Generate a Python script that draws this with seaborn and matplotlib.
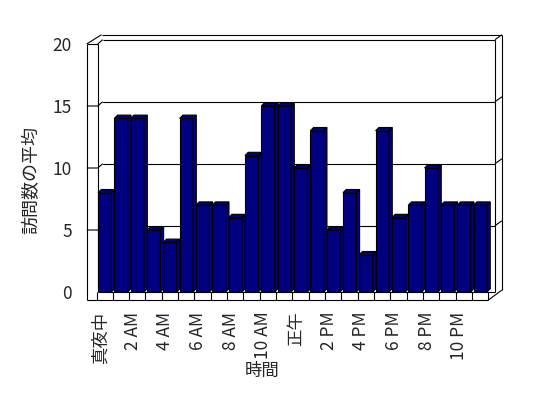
import numpy as np
import pandas as pd
import matplotlib
matplotlib.use("Agg")
import matplotlib.pyplot as plt
import matplotlib.transforms as mtransforms
from matplotlib.patches import Polygon
from matplotlib.collections import LineCollection
import seaborn as sns

# ---- data ----
hours = list(range(24))
visits = [8, 14, 14, 5, 4, 14, 7, 7, 6, 11, 15, 15, 10, 13, 5, 8, 3, 13, 6, 7, 10, 7, 7, 7]
tick_hours = [0, 2, 4, 6, 8, 10, 12, 14, 16, 18, 20, 22]
tick_labels = ['真夜中', '2 AM', '4 AM', '6 AM', '8 AM', '10 AM', '正午',
               '2 PM', '4 PM', '6 PM', '8 PM', '10 PM']
y_ticks = [0, 5, 10, 15, 20]
grid_vals = [5, 10, 15]
x_title = '時間'
y_title = '訪問数の平均'

sns.set_style('white')
plt.rcParams['font.family'] = ['Noto Sans CJK JP', 'DejaVu Sans']
FS = 12.5

W, H = 548, 398
fig = plt.figure(figsize=(W / 100, H / 100), dpi=100)

# ---- layout geometry (pixels, top origin) ----
SLOT = 16.33     # px per category
X0 = 96.5        # px of x = -0.5
XR = 495.0       # inner right wall
Y0 = 292.0       # px of value 0
Y20 = 44.0       # px of value 20
PXU = (Y0 - Y20) / 20.0
XL = 86.7        # left wall front edge
XB = 97.7        # left wall inner edge
DBX, DBY = 5.0, 4.3   # back wall offset
XT = 101.5       # outer top-left corner
XO = 502.0       # outer right edge
YT = 34.7        # outer top edge
YF = 300.0       # floor front edge
YFR = 290.0      # outer right bottom
DEPTH = 3.3      # bar depth in px
NAVY = '#000080'
LW = 0.8


def fx(px):
    return px / W


def fy(py):
    return 1 - py / H


ax = fig.add_axes([fx(X0), fy(Y0), (XR - X0) / W, (Y0 - Y20) / H])
df = pd.DataFrame({'hour': hours, 'visits': visits})
sns.barplot(data=df, x='hour', y='visits', color=NAVY, saturation=1,
            width=0.82, edgecolor='black', linewidth=LW, ax=ax, zorder=3)
ax.set_xlim(-0.5, -0.5 + (XR - X0) / SLOT)
ax.set_ylim(0, 20)
for s in ax.spines.values():
    s.set_visible(False)
ax.patch.set_visible(False)

# back wall gridlines (behind bars)
xmin_frac = (XB + DBX - X0) / (XR - X0)
for v in grid_vals:
    ax.axhline(v + DBY / PXU, xmin=xmin_frac, xmax=1, color='black', lw=LW, zorder=1)

# 3D side/top faces
dx = DEPTH / SLOT
dy = DEPTH / PXU
for p in list(ax.patches):
    x0 = p.get_x()
    w = p.get_width()
    h = p.get_height()
    top = Polygon([(x0, h), (x0 + w, h), (x0 + w + dx, h + dy), (x0 + dx, h + dy)],
                  closed=True, facecolor=NAVY, edgecolor='black', lw=LW, zorder=3)
    side = Polygon([(x0 + w, 0), (x0 + w, h), (x0 + w + dx, h + dy), (x0 + w + dx, dy)],
                   closed=True, facecolor=NAVY, edgecolor='black', lw=LW, zorder=3)
    ax.add_patch(top)
    ax.add_patch(side)

# ticks
ax.set_xticks(tick_hours, tick_labels, rotation=90, fontsize=FS)
ax.set_yticks(y_ticks, [str(v) for v in y_ticks], fontsize=FS)
ax.tick_params(axis='x', length=0, pad=(311.5 - Y0) * 0.72)
ax.tick_params(axis='y', length=0, pad=(X0 - 72) * 0.72)
ax.set_xlabel('')
ax.set_ylabel('')
shift = mtransforms.ScaledTranslation(-4.5 / 100, 0, fig.dpi_scale_trans)
for lab in ax.get_xticklabels():
    lab.set_transform(lab.get_transform() + shift)

# ---- frame decoration overlay ----
deco = fig.add_axes([0, 0, 1, 1], zorder=5)
deco.set_xlim(0, W)
deco.set_ylim(H, 0)
deco.axis('off')
deco.patch.set_alpha(0)

segs = [
    [(XL, Y20), (XL, YF)],
    [(XL, Y20), (XB, Y20)],
    [(XB, Y20), (XB, Y0)],
    [(XB, Y20), (XB + DBX, Y20 - DBY)],
    [(XL, Y20), (XT, YT)],
    [(XT, YT), (XO, YT)],
    [(XB + DBX, Y20 - DBY), (XR, Y20 - DBY)],
    [(XR, Y20 - DBY), (XO, YT)],
    [(XR, Y20 - DBY), (XR, Y0)],
    [(XO, YT), (XO, YFR)],
    [(XB, Y0), (XR, Y0)],
    [(XL, YF), (X0 + 24 * SLOT, YF)],
    [(X0 + 24 * SLOT, YF), (XO, YFR)],
]
for v in grid_vals:
    yv = Y0 - v * PXU
    segs.append([(XL, yv), (XB, yv), (XB + DBX, yv - DBY)])
    segs.append([(XR, yv - DBY), (XO, yv - DBY - (Y20 - DBY - YT))])
for k in range(25):
    xk = X0 + k * SLOT
    segs.append([(xk, Y0), (xk, YF)])
deco.add_collection(LineCollection(segs, colors='black', linewidths=LW))

fig.text(fx(31.7), fy(180), y_title, rotation=90, ha='center', va='center', fontsize=13)
fig.text(fx(262), fy(371), x_title, ha='center', va='center', fontsize=FS)

fig.savefig('out.png', dpi=100)
